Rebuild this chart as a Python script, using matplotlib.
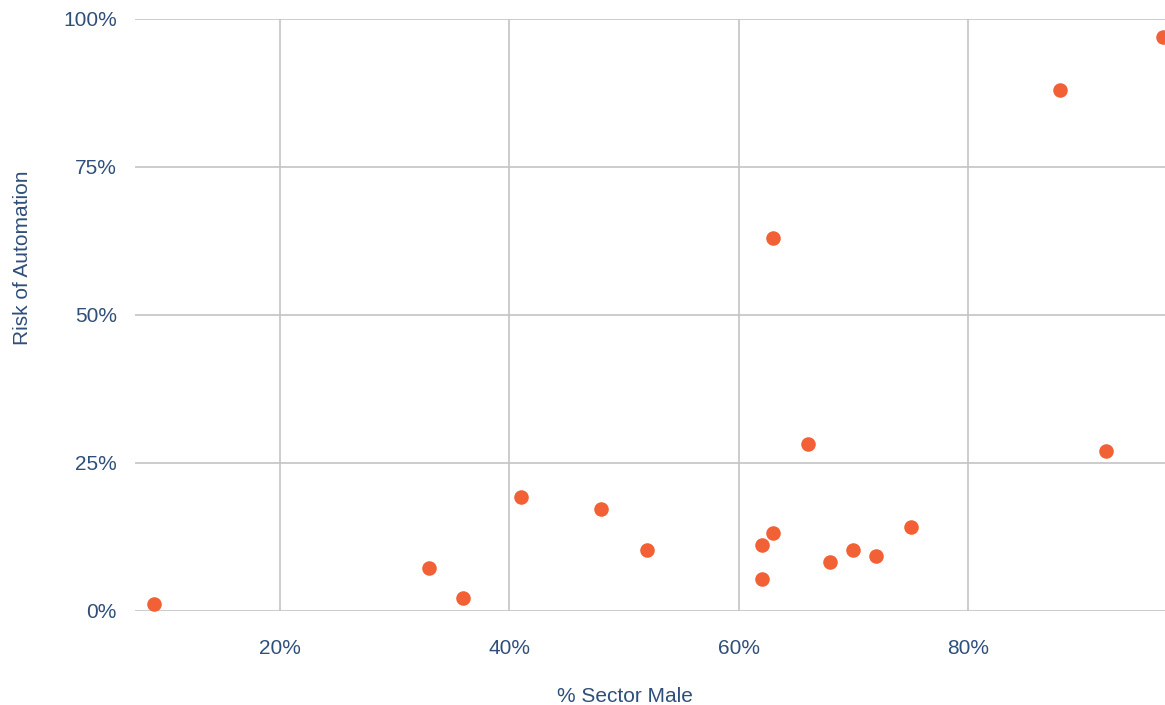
import matplotlib.pyplot as plt
from matplotlib.ticker import FuncFormatter

# % of sector workforce that is male vs. risk of automation
pct_male = [9, 33, 36, 41, 48, 52, 62, 62, 63, 63, 66, 68, 70, 72, 75, 88, 92, 97]
risk = [1.2, 7.3, 2.2, 19.3, 17.2, 10.3, 11.1, 5.4, 63, 13.2, 28.2, 8.3, 10.3, 9.3, 14.2, 88, 27, 97]

x_ticks = [20, 40, 60, 80]
y_ticks = [0, 25, 50, 75, 100]

text_col = '#2f4f7a'
grid_col = '#c4c4c4'
dot_col = '#f26135'

plt.rcParams['font.family'] = ['Liberation Sans', 'DejaVu Sans']

fig = plt.figure(figsize=(11.65, 7.05), dpi=100)
ax = fig.add_axes([135 / 1165, 94 / 705, 1 - 135 / 1165, 592 / 705])

ax.scatter(pct_male, risk, s=110, color=dot_col, linewidths=0, zorder=3)

ax.set_xlim(7.36, 97.17)
ax.set_ylim(0, 100)
ax.set_xticks(x_ticks)
ax.set_yticks(y_ticks)
pct = FuncFormatter(lambda v, p: f'{v:.0f}%')
ax.xaxis.set_major_formatter(pct)
ax.yaxis.set_major_formatter(pct)

ax.grid(True, color=grid_col, linewidth=1.2)
ax.set_axisbelow(True)
for s in ax.spines.values():
    s.set_visible(False)
ax.tick_params(length=0, labelsize=15, labelcolor=text_col)
ax.tick_params(axis='x', pad=20)
ax.tick_params(axis='y', pad=13)

ax.set_xlabel('% Sector Male', fontsize=15, color=text_col, va='center')
ax.set_ylabel('Risk of Automation', fontsize=15, color=text_col, va='center', ha='center')
ax.xaxis.set_label_coords(0.476, -0.145)
ax.yaxis.set_label_coords(-0.109, 0.596)

fig.savefig('out.png', dpi=100)
